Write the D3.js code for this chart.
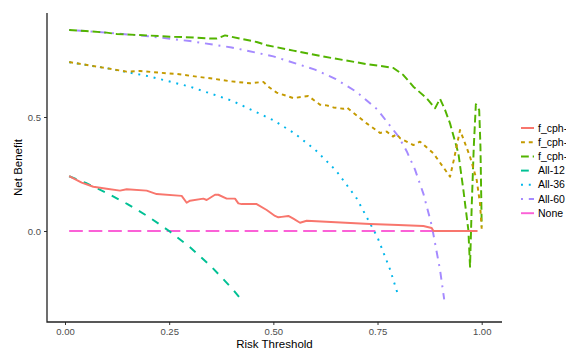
<!DOCTYPE html>
<html>
<head>
<meta charset="utf-8">
<script src="https://cdn.jsdelivr.net/npm/d3@7"></script>
<style>
  html, body { margin: 0; padding: 0; background: #fff; overflow: hidden; }
  svg { display: block; font-family: "Liberation Sans", Arial, sans-serif; }
</style>
</head>
<body>
<div id="chart"></div>
<script>
// series names, in legend order
const seriesNames = ['f_cph-12', 'f_cph-36', 'f_cph-60', 'All-12', 'All-36', 'All-60', 'None'];

// thresholds / net benefit
const cph12T = [0.01, 0.04, 0.068, 0.1, 0.132, 0.148, 0.196, 0.22, 0.28, 0.292, 0.30, 0.332, 0.34, 0.36, 0.368, 0.388, 0.408, 0.416, 0.424, 0.46, 0.484, 0.504, 0.512, 0.52, 0.536, 0.548, 0.564, 0.58, 0.65, 0.732, 0.80, 0.86, 0.88, 0.884, 0.95, 0.99];
const cph12NB = [0.241, 0.212, 0.194, 0.185, 0.177, 0.183, 0.177, 0.162, 0.154, 0.124, 0.133, 0.142, 0.136, 0.159, 0.159, 0.142, 0.142, 0.121, 0.118, 0.118, 0.092, 0.066, 0.060, 0.062, 0.066, 0.054, 0.036, 0.045, 0.038, 0.031, 0.026, 0.022, 0.013, 0.0, 0.0, 0.0];

const cph36T = [0.01, 0.05, 0.1, 0.148, 0.18, 0.228, 0.268, 0.316, 0.356, 0.396, 0.444, 0.476, 0.488, 0.508, 0.548, 0.584, 0.612, 0.628, 0.644, 0.668, 0.676, 0.70, 0.724, 0.756, 0.772, 0.787, 0.796, 0.804, 0.836, 0.852, 0.884, 0.924, 0.933, 0.948, 0.972, 0.988, 0.996, 1.0];
const cph36NB = [0.741, 0.729, 0.714, 0.699, 0.702, 0.694, 0.689, 0.677, 0.668, 0.657, 0.648, 0.654, 0.633, 0.607, 0.583, 0.592, 0.554, 0.551, 0.542, 0.536, 0.542, 0.507, 0.472, 0.430, 0.436, 0.414, 0.425, 0.407, 0.377, 0.392, 0.341, 0.238, 0.311, 0.443, 0.326, 0.224, 0.12, 0.01];

const cph60T = [0.01, 0.05, 0.1, 0.124, 0.196, 0.252, 0.308, 0.348, 0.364, 0.384, 0.428, 0.46, 0.484, 0.548, 0.612, 0.668, 0.724, 0.756, 0.788, 0.812, 0.836, 0.868, 0.888, 0.90, 0.912, 0.924, 0.944, 0.956, 0.968, 0.972, 0.976, 0.981, 0.986, 0.994, 0.997, 1.0];
const cph60NB = [0.882, 0.877, 0.870, 0.864, 0.858, 0.852, 0.849, 0.844, 0.844, 0.858, 0.841, 0.829, 0.815, 0.791, 0.768, 0.750, 0.732, 0.724, 0.715, 0.684, 0.633, 0.582, 0.538, 0.580, 0.531, 0.472, 0.341, 0.180, 0.004, -0.157, 0.107, 0.370, 0.556, 0.531, 0.370, 0.02];

const all12T = [0.01, 0.05, 0.1, 0.15, 0.2, 0.25, 0.3, 0.35, 0.4, 0.418];
const all12NB = [0.240, 0.211, 0.167, 0.118, 0.063, 0.0, -0.071, -0.154, -0.250, -0.290];

const all36T = [0.01, 0.1, 0.2, 0.3, 0.4, 0.5, 0.55, 0.6, 0.65, 0.7, 0.75, 0.78, 0.80];
const all36NB = [0.740, 0.714, 0.679, 0.633, 0.572, 0.486, 0.429, 0.357, 0.266, 0.143, -0.028, -0.168, -0.285];

const all60T = [0.01, 0.1, 0.2, 0.3, 0.4, 0.5, 0.6, 0.65, 0.7, 0.75, 0.8, 0.82, 0.84, 0.86, 0.88, 0.9, 0.91];
const all60NB = [0.882, 0.870, 0.854, 0.833, 0.805, 0.766, 0.708, 0.666, 0.610, 0.532, 0.415, 0.350, 0.269, 0.164, 0.025, -0.170, -0.300];

const noneT = [0.01, 0.99];
const noneNB = [0, 0];

const xTicks = [0, 0.25, 0.5, 0.75, 1.0];
const yTicks = [0, 0.5];

const colors = ['#F8766D', '#C49A00', '#53B400', '#00C094', '#00B6EB', '#A58AFF', '#FB61D7'];
const lw = 1.95;
// ggplot linetypes: solid, 22, 42, 44, 13, 1343, 73
const dashes = [null, [2, 2], [4, 2], [4, 4], [1, 3], [1, 3, 4, 3], [7, 3]]
  .map(d => d ? d.map(v => v * lw).join(',') : null);

const series = [
  [cph12T, cph12NB], [cph36T, cph36NB], [cph60T, cph60NB],
  [all12T, all12NB], [all36T, all36NB], [all60T, all60NB], [noneT, noneNB]
].map((s, i) => ({ name: seriesNames[i], pts: s[0].map((t, j) => [t, s[1][j]]) }));

const width = 566, height = 351;
const panel = { left: 47, right: 502, top: 13, bottom: 322 };

const x = d3.scaleLinear().domain([0, 1]).range([65, 481.7]);
const y = d3.scaleLinear().domain([0, 0.5]).range([231, 117]);

const svg = d3.select('#chart').append('svg')
  .attr('width', width)
  .attr('height', height);

const line = d3.line().x(d => x(d[0])).y(d => y(d[1]));

// draw in reverse so the model curves sit on top
svg.append('g').selectAll('path')
  .data(series.slice().reverse())
  .enter()
  .append('path')
  .attr('d', d => line(d.pts))
  .attr('fill', 'none')
  .attr('stroke', d => colors[seriesNames.indexOf(d.name)])
  .attr('stroke-width', lw)
  .attr('stroke-linejoin', 'round')
  .attr('stroke-dasharray', d => dashes[seriesNames.indexOf(d.name)]);

// axes
const xAxis = svg.append('g')
  .attr('transform', `translate(0,${panel.bottom})`)
  .call(d3.axisBottom(x).tickValues(xTicks).tickFormat(d3.format('.2f')).tickSize(3).tickPadding(3));
const yAxis = svg.append('g')
  .attr('transform', `translate(${panel.left},0)`)
  .call(d3.axisLeft(y).tickValues(yTicks).tickFormat(d3.format('.1f')).tickSize(3).tickPadding(3));

[xAxis, yAxis].forEach(a => {
  a.select('.domain').remove();
  a.selectAll('.tick line').attr('stroke', '#333').attr('stroke-width', 1);
  a.selectAll('.tick text').attr('fill', '#4d4d4d').style('font-size', '9.5px');
});

svg.append('path')
  .attr('d', `M${panel.left},${panel.top}V${panel.bottom}H${panel.right}`)
  .attr('fill', 'none')
  .attr('stroke', '#222')
  .attr('stroke-width', 1.3);

svg.append('text')
  .attr('x', (panel.left + panel.right) / 2)
  .attr('y', 348)
  .attr('text-anchor', 'middle')
  .style('font-size', '11.5px')
  .text('Risk Threshold');

svg.append('text')
  .attr('transform', `translate(22,${(panel.top + panel.bottom) / 2}) rotate(-90)`)
  .attr('text-anchor', 'middle')
  .style('font-size', '11.5px')
  .text('Net Benefit');

// legend (runs past the right edge, as in the cropped original)
const legend = svg.append('g');
const items = legend.selectAll('g')
  .data(seriesNames)
  .enter()
  .append('g')
  .attr('transform', (d, i) => `translate(521,${128 + i * 14.2})`);

items.append('line')
  .attr('x1', 0).attr('x2', 13)
  .attr('stroke', (d, i) => colors[i])
  .attr('stroke-width', lw)
  .attr('stroke-dasharray', (d, i) => dashes[i]);

items.append('text')
  .attr('x', 17)
  .attr('dy', '0.35em')
  .style('font-size', '10.5px')
  .text(d => d);
</script>
</body>
</html>
